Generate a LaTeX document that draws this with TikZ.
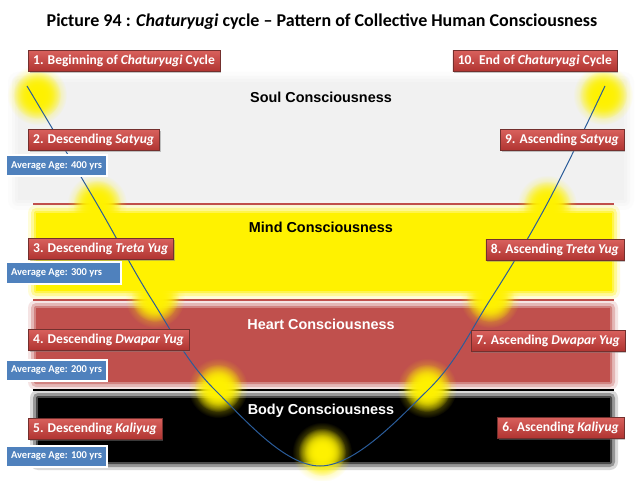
\documentclass[tikz,border=0pt]{standalone}
\usepackage{fontspec}
\setmainfont{Carlito}
\newfontfamily\bandfont{Liberation Sans}
\usetikzlibrary{shadows,fadings}

\definecolor{yugred}{HTML}{C0504D}
\definecolor{yugredtop}{HTML}{D8605C}
\definecolor{yugredbot}{HTML}{B03431}
\definecolor{ageblue}{HTML}{4F81BD}
\definecolor{soulgrey}{HTML}{F1F1F1}
\definecolor{curveblue}{HTML}{2A5C9A}

\tikzfading[name=glowfade, inner color=transparent!0, outer color=transparent!100]

\tikzset{
  yug/.style={draw=yugred!60!black, top color=yugredtop, bottom color=yugredbot,
    text=white, font=\bfseries\fontsize{13.5}{15}\selectfont, minimum height=21pt,
    inner xsep=5pt, inner ysep=2pt,
    drop shadow={opacity=0.45, shadow xshift=1.5pt, shadow yshift=-1.5pt}},
  agebox/.style={fill=ageblue, draw=white, line width=2pt, text=white,
    font=\bfseries\fontsize{10.5}{12}\selectfont, minimum height=21pt, inner xsep=5pt,
    drop shadow={opacity=0.3, shadow xshift=1pt, shadow yshift=-1pt}},
  bandlabel/.style={font=\bandfont\bfseries\fontsize{14.4}{16}\selectfont},
  glow/.style={fill=yellow, path fading=glowfade},
}

\begin{document}
\begin{tikzpicture}[x=1pt, y=-1pt]
\useasboundingbox[fill=white] (0,0) rectangle (640,481);

% bands
\foreach \e/\o in {10/0.2,6/0.3,3/0.5,0/1}
  \fill[soulgrey, opacity=\o, rounded corners=\e pt] (18-\e,82-\e) rectangle (624+\e,200+\e);
\foreach \e/\o in {8/0.15,5/0.3,2/0.5,0/1}
  \fill[yellow, opacity=\o, rounded corners=\e pt] (36-\e,213-\e) rectangle (612+\e,291+\e);
\foreach \e/\o in {8/0.15,5/0.3,2/0.5,0/1}
  \fill[yugred, opacity=\o, rounded corners=\e pt] (36-\e,308-\e) rectangle (610+\e,382+\e);
\foreach \e/\o in {8/0.15,5/0.3,2/0.5,0/1}
  \fill[black, opacity=\o, rounded corners=\e pt] (38-\e,398-\e) rectangle (610+\e,462+\e);

\draw[yugred, line width=2pt] (33,204) -- (614,204);
\draw[yugred, line width=2pt] (33,300) -- (614,300);
\draw[black, line width=2.5pt] (33,390) -- (614,390);

\node[bandlabel] (soul) at (321,97) {Soul Consciousness};
\node[bandlabel] (mind) at (321,227) {Mind Consciousness};
\node[bandlabel, text=white] (heart) at (321,324) {Heart Consciousness};
\node[bandlabel, text=white] (body) at (321,411) {Body Consciousness};

% glows
\foreach \p in {(37,95),(97,204),(155,298),(218,388),(322,452),(427,388),(490,298),(547,205),(603,95)} {
  \fill[glow] \p circle (30);
  \fill[glow] \p circle (24);
  \fill[glow] \p circle (24);
  \fill[glow] \p circle (18);
}

% cycle
\coordinate (c1) at (27,86);
\coordinate (c2) at (97,204);
\coordinate (c3) at (152,300);
\coordinate (c4) at (215,390);
\coordinate (c5) at (320,466);
\coordinate (c6) at (428,390);
\coordinate (c7) at (490,300);
\coordinate (c8) at (547,204);
\coordinate (c9) at (605,86);
\draw[curveblue, line width=1pt] plot[smooth, tension=0.6] coordinates {(c1) (c2) (c3) (c4) (c5) (c6) (c7) (c8) (c9)};

\node[font=\bfseries\fontsize{18}{21}\selectfont] (title) at (322,22) {Picture 94 : \textit{Chaturyugi} cycle -- Pattern of Collective Human Consciousness};

\node[yug, anchor=west] (y1) at (28,61) {1. Beginning of \textit{Chaturyugi} Cycle};
\node[yug, anchor=east] (y10) at (617,61) {10. End of \textit{Chaturyugi} Cycle};
\node[yug, anchor=west] (y2) at (28,140) {2. Descending \textit{Satyug}};
\node[yug, anchor=east] (y9) at (624,140) {9. Ascending \textit{Satyug}};
\node[yug, anchor=west] (y3) at (28,249) {3. Descending \textit{Treta Yug}};
\node[yug, anchor=east] (y8) at (624,250) {8. Ascending \textit{Treta Yug}};
\node[yug, anchor=west] (y4) at (28,340) {4. Descending \textit{Dwapar Yug}};
\node[yug, anchor=east] (y7) at (625,341) {7. Ascending \textit{Dwapar Yug}};
\node[yug, anchor=west] (y5) at (28,429) {5. Descending \textit{Kaliyug}};
\node[yug, anchor=east] (y6) at (624,428) {6. Ascending \textit{Kaliyug}};

\node[agebox, anchor=west] (a400) at (5,166) {Average Age: 400 yrs};
\node[agebox, anchor=west] (a300) at (5,273) {\makebox[105pt][l]{Average Age: 300 yrs}};
\node[agebox, anchor=west] (a200) at (5,370) {Average Age: 200 yrs};
\node[agebox, anchor=west] (a100) at (5,456) {Average Age: 100 yrs};
\end{tikzpicture}
\end{document}
